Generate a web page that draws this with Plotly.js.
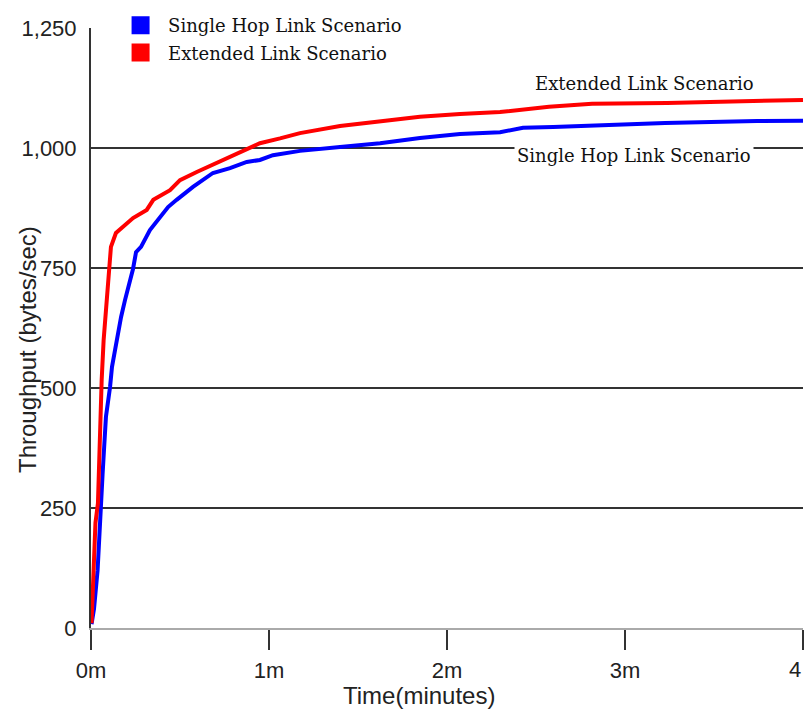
<!DOCTYPE html>
<html>
<head>
<meta charset="utf-8">
<script src="https://cdn.plot.ly/plotly-3.0.1.min.js"></script>
<style>html,body{margin:0;padding:0;background:#fff;}#chart{width:804px;height:711px;}</style>
</head>
<body>
<div id="chart"></div>
<script>
// Time in minutes, throughput in bytes/sec
const singleHopTime = [0.003,0.017,0.037,0.051,0.065,0.073,0.084,0.107,0.118,0.135,0.152,0.169,0.191,0.219,0.236,0.253,0.281,0.331,0.376,0.433,0.481,0.573,0.685,0.781,0.875,0.949,1.022,1.174,1.399,1.624,1.848,2.073,2.298,2.427,2.596,2.871,3.225,3.742,4.0];
const singleHopValue = [8,40,120,240,320,371,440,502,544,579,615,648,683,719,748,783,794,829,850,877,892,919,948,958,971,975,985,994,1002,1010,1021,1029,1033,1042,1044,1048,1052,1056,1057];

const extendedTime = [0.003,0.008,0.014,0.022,0.025,0.039,0.042,0.051,0.053,0.060,0.071,0.084,0.096,0.107,0.112,0.140,0.191,0.236,0.313,0.350,0.444,0.500,0.594,0.685,0.798,0.910,0.949,1.062,1.174,1.399,1.624,1.848,2.073,2.298,2.573,2.815,3.236,3.646,4.0];
const extendedValue = [10,52,83,150,219,260,302,371,440,517,600,662,725,777,794,823,840,854,871,892,912,933,950,965,985,1002,1010,1020,1031,1046,1056,1065,1071,1075,1086,1092,1094,1098,1100];

const seriesNames = ['Single Hop Link Scenario','Extended Link Scenario'];
const seriesColors = ['#0000ff','#ff0000'];

const xTickVals = [0,1,2,3,4];
const xTickText = ['0m','1m','2m','3m',''];
const lastTickLabel = '4';
const yTickVals = [0,250,500,750,1000,1250];
const yGridVals = [250,500,750,1000];

const serif = 'DejaVu Serif';
const sans = 'Liberation Sans';

const traces = [
  {x: singleHopTime, y: singleHopValue, mode:'lines', line:{color:seriesColors[0], width:4}, showlegend:false, hoverinfo:'skip'},
  {x: extendedTime, y: extendedValue, mode:'lines', line:{color:seriesColors[1], width:4}, showlegend:false, hoverinfo:'skip'},
  {x:[null], y:[null], mode:'markers', name:seriesNames[0], legendgroup:'a', marker:{symbol:'square', size:16, color:seriesColors[0], line:{color:seriesColors[0], width:2}}},
  {x:[null], y:[null], mode:'markers', name:seriesNames[1], legendgroup:'b', marker:{symbol:'square', size:16, color:seriesColors[1], line:{color:seriesColors[1], width:2}}},
  {x:[null], y:[null], yaxis:'y2', mode:'lines', showlegend:false, hoverinfo:'skip'}
];

const layout = {
  width:804, height:711,
  margin:{l:91, r:1, t:28, b:83},
  paper_bgcolor:'#ffffff', plot_bgcolor:'#ffffff',
  showlegend:true,
  legend:{x:0.031, y:1.035, xanchor:'left', yanchor:'top', bgcolor:'rgba(0,0,0,0)', itemwidth:45,
          font:{family:serif, size:18, color:'#111'}, tracegroupgap:1},
  xaxis:{range:[0,4], tickmode:'array', tickvals:xTickVals, ticktext:xTickText, ticks:'outside', ticklen:20, tickwidth:2, tickcolor:'#333',
         showline:true, linecolor:'#aaaaaa', linewidth:2, showgrid:false, zeroline:false, ticklabelstandoff:2,
         tickfont:{family:sans, size:22, color:'#222'}, fixedrange:true},
  yaxis:{range:[0,1250], tickmode:'array', tickvals:yTickVals, tickformat:',', ticks:'', showline:true, linecolor:'#333', linewidth:2,
         showgrid:false, zeroline:false, ticklabelstandoff:8, tickfont:{family:sans, size:22, color:'#222'}, fixedrange:true},
  yaxis2:{range:[0,1250], overlaying:'y', tickmode:'array', tickvals:yGridVals, showticklabels:false, ticks:'', showgrid:true,
          gridcolor:'#333', gridwidth:2, zeroline:false, showline:false, fixedrange:true},
  annotations:[
    {xref:'paper', yref:'paper', x:(27-91)/712, y:(628-350)/600, text:'Throughput (bytes/sec)', textangle:-90, showarrow:false,
     xanchor:'center', yanchor:'middle', font:{family:sans, size:24, color:'#222'}},
    {xref:'paper', yref:'paper', x:(419-91)/712, y:(628-695)/600, text:'Time(minutes)', showarrow:false,
     xanchor:'center', yanchor:'middle', font:{family:sans, size:24, color:'#222'}},
    {xref:'x', yref:'paper', x:xTickVals[4], y:(628-669)/600, text:lastTickLabel, showarrow:false, xanchor:'right', yanchor:'middle',
     font:{family:sans, size:22, color:'#222'}},
    {xref:'x', yref:'y', x:3.107, y:1135, text:seriesNames[1], showarrow:false, xanchor:'center', yanchor:'middle',
     font:{family:serif, size:18, color:'#111'}},
    {xref:'x', yref:'y2', x:3.048, y:985, text:seriesNames[0], showarrow:false, xanchor:'center', yanchor:'middle',
     bgcolor:'#ffffff', borderpad:2, font:{family:serif, size:18, color:'#111'}}
  ]
};

Plotly.newPlot('chart', traces, layout, {displayModeBar:false, staticPlot:true});
</script>
</body>
</html>
